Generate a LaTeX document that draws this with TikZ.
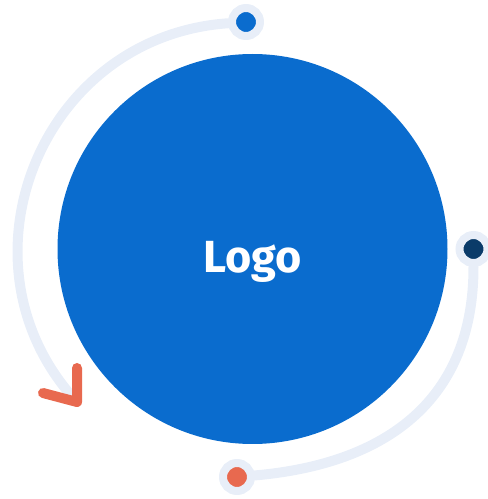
\documentclass[tikz,border=0pt]{standalone}
\usepackage{fontspec}
\setsansfont{Fira Sans}
\usetikzlibrary{positioning}

\definecolor{logoblue}{HTML}{0A6CCE}
\definecolor{navy}{HTML}{0A3B69}
\definecolor{coral}{HTML}{E8694F}
\definecolor{track}{HTML}{E8EEF8}

\begin{document}
\begin{tikzpicture}[
    x=1pt, y=1pt,
    font=\sffamily\bfseries
]
\tikzset{
    logocircle/.style = {circle, fill=logoblue, minimum size=390pt, inner sep=0pt},
    logotext/.style = {text=white, font=\sffamily\bfseries\fontsize{45}{50}\selectfont},
    dotnode/.style = {circle, fill=#1, draw=track, line width=8pt, minimum size=28pt, inner sep=0pt},
    trail/.style = {track, line width=10pt, line cap=round},
    chevron/.style = {coral, line width=10pt, line cap=round, line join=round}
}
\useasboundingbox (0,0) rectangle (488,499);
\node[logocircle] at (252.5,250) (logo) {};
\node[logotext, anchor=base] at (252.5,226.7) (title) {Logo};
\node[dotnode=logoblue] at (246,477)   (topdot) {};
\node[dotnode=navy]     at (473.5,250) (rightdot) {};
\node[dotnode=coral]    at (237,22)    (bottomdot) {};
\coordinate (tip) at (77,97);
% tracks round the circle
\draw[trail, shorten >=4pt] (topdot) to[out=184, in=132, looseness=1.18] (tip);
\draw[trail] (rightdot) to[out=-90, in=5, looseness=1.12] (bottomdot);
% arrow head at the end of the left track
\draw[chevron] (tip) ++(0,34) -- (tip) -- ++(-34,9);
\end{tikzpicture}
\end{document}
